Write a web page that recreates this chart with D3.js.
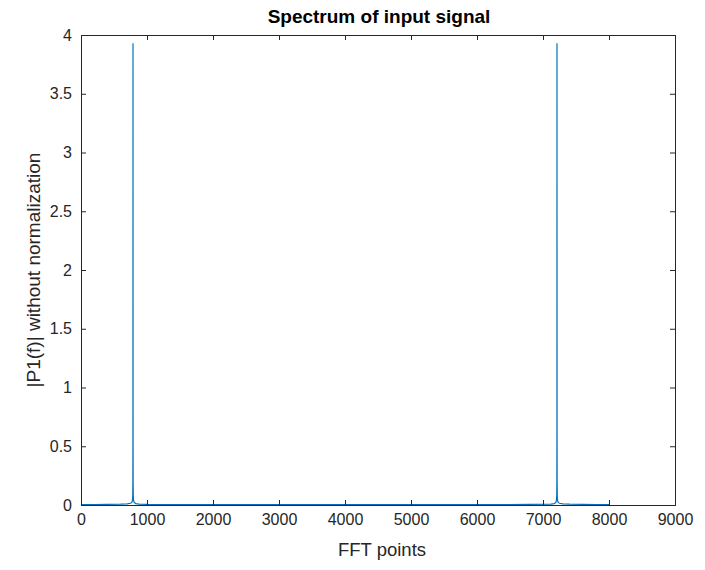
<!DOCTYPE html>
<html><head><meta charset="utf-8">
<script src="https://cdn.jsdelivr.net/npm/d3@7"></script>
<style>body{margin:0;background:#fff}svg{display:block}text{font-family:"Liberation Sans",Arial,sans-serif}</style>
</head><body><svg id="c" width="705" height="570"></svg>
<script>
// Data (sparse samples of the FFT magnitude)
const fftPoints = [1, 200, 400, 600, 700, 750, 770, 780, 784, 786, 787, 788, 789, 790, 792, 796, 806, 830, 880, 1000, 1500, 2500, 4000, 5500, 6500, 7120, 7170, 7194, 7204, 7208, 7210, 7211, 7212, 7213, 7214, 7216, 7220, 7230, 7250, 7300, 7400, 7600, 7800, 8000];
const magnitude = [0.004, 0.004, 0.005, 0.007, 0.01, 0.015, 0.022, 0.04, 0.08, 0.2, 0.6, 3.93, 0.6, 0.2, 0.08, 0.04, 0.022, 0.012, 0.008, 0.006, 0.004, 0.003, 0.003, 0.003, 0.004, 0.008, 0.012, 0.022, 0.04, 0.08, 0.2, 0.6, 3.93, 0.6, 0.2, 0.08, 0.04, 0.022, 0.015, 0.01, 0.007, 0.005, 0.004, 0.004];
const xTicks = [0, 1000, 2000, 3000, 4000, 5000, 6000, 7000, 8000, 9000];
const yTicks = [0, 0.5, 1, 1.5, 2, 2.5, 3, 3.5, 4];
const titleText = "Spectrum of input signal";
const xLabel = "FFT points";
const yLabel = "|P1(f)| without normalization";

const svg = d3.select("#c");
const L = 81, R = 675, T = 35, B = 505;
const x = d3.scaleLinear().domain([0, 9000]).range([L, R]);
const y = d3.scaleLinear().domain([0, 4]).range([B, T]);
const axisColor = "#262626";

// data line
const line = d3.line().x((d, i) => x(fftPoints[i])).y((d) => y(d));
svg.append("path").datum(magnitude).attr("d", line)
  .attr("fill", "none").attr("stroke", "#0072BD").attr("stroke-width", 1.2);

// axes
const gx = svg.append("g").attr("transform", `translate(0,${B})`)
  .call(d3.axisBottom(x).tickValues(xTicks).tickSize(-5).tickPadding(9).tickFormat(d3.format("d")));
const gxt = svg.append("g").attr("transform", `translate(0,${T})`)
  .call(d3.axisTop(x).tickValues(xTicks).tickSize(-5).tickFormat(""));
const gy = svg.append("g").attr("transform", `translate(${L},0)`)
  .call(d3.axisLeft(y).tickValues(yTicks).tickSize(-5).tickPadding(9).tickFormat(d => String(d)));
const gyr = svg.append("g").attr("transform", `translate(${R},0)`)
  .call(d3.axisRight(y).tickValues(yTicks).tickSize(-5).tickFormat(""));
[gx, gxt, gy, gyr].forEach(g => {
  g.select(".domain").attr("stroke", axisColor).attr("stroke-width", 1);
  g.selectAll(".tick line").attr("stroke", axisColor);
  g.selectAll("text").attr("fill", axisColor).style("font-size", "16px")
    .style("font-family", "'Liberation Sans', Arial, sans-serif");
});

// title & labels
svg.append("text").attr("x", (L + R) / 2 + 1).attr("y", 23).attr("text-anchor", "middle")
  .style("font-size", "19px").style("font-weight", "bold").attr("fill", "#000").text(titleText);
svg.append("text").attr("x", (L + R) / 2 + 4).attr("y", 556).attr("text-anchor", "middle")
  .style("font-size", "18.5px").attr("fill", axisColor).text(xLabel);
svg.append("text").attr("transform", `translate(40,${(T + B) / 2}) rotate(-90)`).attr("text-anchor", "middle")
  .style("font-size", "19px").attr("fill", axisColor).text(yLabel);
</script></body></html>
